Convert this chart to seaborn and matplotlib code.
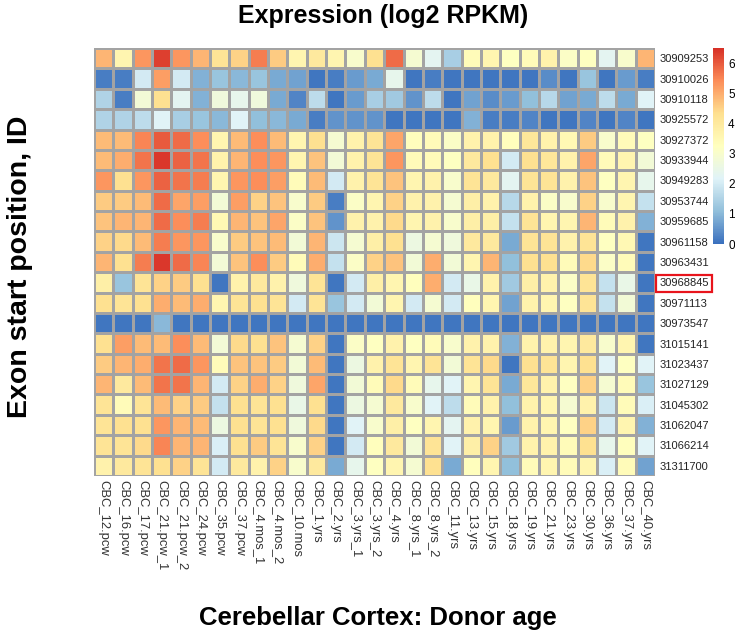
import numpy as np
import pandas as pd
import matplotlib
matplotlib.use("Agg")
import matplotlib.pyplot as plt
import seaborn as sns
from matplotlib.colors import LinearSegmentedColormap

samples = ["CBC_12.pcw", "CBC_16.pcw", "CBC_17.pcw", "CBC_21.pcw_1", "CBC_21.pcw_2",
           "CBC_24.pcw", "CBC_35.pcw", "CBC_37.pcw", "CBC_4.mos_1", "CBC_4.mos_2",
           "CBC_10.mos", "CBC_1.yrs", "CBC_2.yrs", "CBC_3.yrs_1", "CBC_3.yrs_2",
           "CBC_4.yrs", "CBC_8.yrs_1", "CBC_8.yrs_2", "CBC_11.yrs", "CBC_13.yrs",
           "CBC_15.yrs", "CBC_18.yrs", "CBC_19.yrs", "CBC_21.yrs", "CBC_23.yrs",
           "CBC_30.yrs", "CBC_36.yrs", "CBC_37.yrs", "CBC_40.yrs"]

exons = ["30909253", "30910026", "30910118", "30925572", "30927372", "30933944",
         "30949283", "30953744", "30959685", "30961158", "30963431", "30968845",
         "30971113", "30973547", "31015141", "31023437", "31027129", "31045302",
         "31062047", "31066214", "31311700"]

# log2 RPKM, one list per exon (columns follow samples)
e30909253 = [4.9, 3.6, 5.3, 6.3, 5.3, 4.9, 4.2, 4.5, 5.6, 4.6, 3.6, 4.0, 3.6, 3.0, 4.3, 5.8, 2.9, 2.3, 1.4, 3.4, 3.6, 3.2, 3.4, 3.7, 3.1, 3.2, 2.3, 3.0, 4.9]
e30910026 = [0.2, 0.2, 2.0, 5.2, 2.0, 0.9, 1.2, 1.0, 1.2, 0.8, 0.7, 0.1, 0.2, 0.6, 0.8, 2.4, 0.1, 0.2, 0.1, 0.1, 0.1, 0.1, 0.1, 0.4, 0.1, 1.2, 0.1, 0.6, 0.2]
e30910118 = [1.5, 0.2, 2.8, 4.3, 2.3, 0.9, 2.7, 2.4, 2.7, 0.8, 0.3, 1.7, 0.1, 0.6, 1.4, 1.3, 0.5, 1.7, 0.1, 0.7, 0.4, 0.6, 1.1, 1.6, 0.7, 0.8, 1.7, 0.8, 2.2]
e30925572 = [1.5, 1.5, 1.7, 2.2, 1.4, 1.2, 1.0, 2.2, 1.1, 1.0, 0.8, 0.2, 0.5, 0.5, 0.5, 0.1, 0.1, 0.1, 0.1, 0.9, 0.2, 0.2, 0.3, 0.1, 0.1, 0.3, 0.1, 0.3, 0.1]
e30927372 = [4.8, 4.8, 5.5, 6.0, 5.8, 5.4, 3.6, 4.8, 5.4, 4.8, 3.6, 4.3, 2.9, 3.7, 4.2, 5.1, 3.3, 3.4, 3.1, 3.7, 3.7, 3.3, 4.1, 3.7, 3.5, 4.6, 3.0, 3.4, 3.2]
e30933944 = [4.8, 5.0, 5.7, 6.4, 5.9, 5.7, 3.7, 4.9, 5.4, 5.3, 3.6, 4.7, 2.8, 3.7, 4.2, 5.3, 3.4, 3.4, 3.2, 4.0, 4.3, 2.0, 4.3, 4.1, 3.7, 5.1, 3.4, 3.6, 2.8]
e30949283 = [5.3, 4.3, 5.3, 5.9, 5.7, 5.6, 3.6, 5.3, 5.4, 5.2, 3.4, 4.8, 2.0, 3.7, 4.2, 4.7, 3.6, 3.7, 3.0, 4.2, 4.0, 2.3, 4.2, 4.2, 3.7, 4.7, 3.2, 3.6, 2.4]
e30953744 = [4.6, 4.6, 4.8, 5.8, 5.1, 5.2, 2.8, 5.2, 4.5, 4.7, 3.0, 4.6, 0.2, 3.1, 3.6, 4.5, 3.7, 3.7, 2.9, 3.8, 3.7, 1.6, 3.7, 3.1, 3.0, 4.5, 3.0, 3.6, 1.8]
e30959685 = [4.7, 4.9, 4.9, 5.8, 5.4, 5.6, 3.5, 4.9, 4.7, 5.1, 3.1, 4.7, 0.5, 3.7, 3.7, 4.4, 3.6, 3.7, 3.0, 3.8, 3.8, 1.8, 4.2, 3.6, 3.6, 4.9, 3.4, 3.7, 0.9]
e30961158 = [4.5, 4.4, 4.8, 5.6, 5.3, 5.3, 3.0, 4.6, 4.7, 4.8, 2.8, 4.9, 1.9, 2.9, 3.8, 4.3, 2.6, 2.9, 2.7, 4.0, 4.0, 0.8, 4.2, 4.2, 3.7, 4.2, 3.2, 3.5, 0.1]
e30963431 = [4.9, 4.3, 5.6, 6.4, 5.8, 5.5, 2.8, 4.7, 5.4, 4.6, 3.4, 5.0, 1.8, 3.1, 4.5, 4.7, 2.8, 5.0, 2.8, 3.6, 4.9, 1.1, 4.3, 4.3, 3.4, 4.4, 3.1, 3.4, 0.1]
e30968845 = [3.8, 1.2, 4.2, 4.5, 4.6, 4.3, 0.1, 3.7, 4.0, 3.7, 2.7, 4.2, 0.1, 2.0, 3.8, 3.6, 3.3, 5.0, 2.0, 2.5, 3.7, 1.3, 3.8, 3.7, 3.1, 4.2, 1.8, 2.5, 0.1]
e30971113 = [4.3, 4.2, 4.3, 5.0, 4.8, 5.0, 3.6, 4.2, 4.3, 4.2, 2.0, 4.2, 1.2, 2.0, 2.8, 3.6, 2.0, 2.9, 2.0, 3.3, 3.6, 0.7, 3.7, 3.6, 3.2, 4.2, 1.8, 2.8, 0.1]
e30973547 = [0.1, 0.1, 0.1, 1.0, 0.1, 0.1, 0.1, 0.1, 0.1, 0.1, 0.1, 0.1, 0.1, 0.1, 0.1, 0.1, 0.1, 0.1, 0.1, 0.1, 0.1, 0.1, 0.1, 0.1, 0.1, 0.1, 0.1, 0.1, 0.1]
e31015141 = [4.3, 5.2, 4.8, 4.8, 5.4, 4.8, 2.8, 4.4, 4.3, 4.7, 2.9, 4.5, 0.1, 3.1, 3.2, 3.7, 3.2, 3.4, 3.0, 3.7, 3.7, 0.9, 3.7, 3.7, 3.6, 4.0, 3.0, 3.6, 0.1]
e31023437 = [4.6, 4.9, 5.0, 5.7, 5.8, 5.3, 3.4, 4.7, 4.7, 4.6, 2.8, 4.8, 0.1, 2.6, 3.7, 4.2, 3.6, 4.2, 2.8, 4.2, 4.4, 0.1, 4.3, 4.2, 3.6, 4.3, 2.2, 3.2, 2.2]
e31027129 = [4.9, 4.0, 4.8, 5.7, 5.7, 4.9, 2.0, 4.5, 5.0, 4.5, 2.7, 5.1, 0.1, 2.8, 3.4, 4.4, 3.4, 2.4, 2.2, 3.6, 4.2, 0.8, 4.1, 3.7, 3.2, 4.5, 2.9, 3.4, 1.2]
e31045302 = [4.2, 3.4, 4.2, 4.8, 4.5, 4.6, 1.8, 4.3, 4.2, 4.3, 2.5, 4.3, 0.1, 2.6, 2.9, 4.0, 3.0, 2.2, 1.7, 3.4, 3.7, 1.1, 3.7, 3.6, 2.9, 3.7, 1.9, 3.4, 2.1]
e31062047 = [4.2, 4.3, 4.3, 5.3, 4.9, 4.8, 2.6, 4.3, 4.2, 4.3, 2.7, 4.4, 0.1, 2.2, 3.0, 3.8, 3.2, 3.6, 2.3, 3.7, 3.6, 0.6, 3.7, 3.6, 3.2, 4.5, 2.0, 3.6, 0.9]
e31066214 = [4.2, 4.2, 4.4, 5.5, 4.9, 4.9, 2.1, 4.3, 4.6, 4.2, 3.0, 4.5, 0.1, 2.0, 3.3, 4.0, 2.8, 4.2, 2.2, 3.8, 4.5, 1.3, 3.7, 3.7, 3.4, 4.3, 2.4, 3.3, 2.2]
e31311700 = [3.7, 4.0, 4.2, 4.3, 4.5, 4.2, 2.0, 4.0, 3.7, 4.5, 3.0, 4.0, 0.8, 2.4, 3.2, 3.6, 2.9, 4.3, 0.8, 3.3, 3.6, 1.1, 3.4, 3.6, 3.4, 3.6, 2.1, 3.4, 0.7]

rows = [e30909253, e30910026, e30910118, e30925572, e30927372, e30933944, e30949283,
        e30953744, e30959685, e30961158, e30963431, e30968845, e30971113, e30973547,
        e31015141, e31023437, e31027129, e31045302, e31062047, e31066214, e31311700]
df = pd.DataFrame(rows, index=exons, columns=samples)

# pheatmap-like RdYlBu ramp
cmap = LinearSegmentedColormap.from_list(
    "rdylbu_ph", ["#3A70BE", "#91BFDB", "#E0F3F8", "#FFFFBF", "#FEE090", "#FC8D59", "#D73027"])

W, H = 735, 637
fam = ["Liberation Sans", "DejaVu Sans"]
fig = plt.figure(figsize=(W / 100, H / 100), dpi=100)
ax = fig.add_axes([94 / W, 1 - 476 / H, (655 - 94) / W, (476 - 48) / H])
cax = fig.add_axes([713 / W, 1 - 244 / H, 11 / W, (244 - 48) / H])

sns.heatmap(df, ax=ax, cbar_ax=cax, cmap=cmap, vmin=0, vmax=6.5,
            linewidths=0.8, linecolor="#a3a3a3", xticklabels=True, yticklabels=True)

ax.yaxis.tick_right()
ax.tick_params(axis="both", length=0, pad=3)
ax.set_yticklabels(exons, rotation=0, fontsize=8, color="#222222", family=fam)
ax.set_xticklabels(samples, rotation=270, fontsize=9.4, color="#333333",
                   family=fam, va="top", ha="center")
ax.set_xlabel("")
ax.set_ylabel("")

# highlight one exon label
ax.get_yticklabels()[11].set_bbox(dict(facecolor="none", edgecolor="#e8141c",
                                       linewidth=1.6, pad=2.5))

cax.tick_params(length=0, labelsize=8.5, pad=3)
cax.set_yticks([0, 1, 2, 3, 4, 5, 6])
for lbl in cax.get_yticklabels():
    lbl.set_family(fam)
for sp in cax.spines.values():
    sp.set_visible(False)

fig.text(383 / W, 1 - 16 / H, "Expression (log2 RPKM)", ha="center", va="center",
         fontsize=18, fontweight="bold", family=fam)
fig.text(378 / W, 1 - 618 / H, "Cerebellar Cortex: Donor age", ha="center", va="center",
         fontsize=18.5, fontweight="bold", family=fam)
fig.text(20 / W, 1 - 267 / H, "Exon start position, ID", ha="center", va="center",
         rotation=90, fontsize=20.5, fontweight="bold", family=fam)

fig.savefig("out.png", dpi=100)
plt.close()
